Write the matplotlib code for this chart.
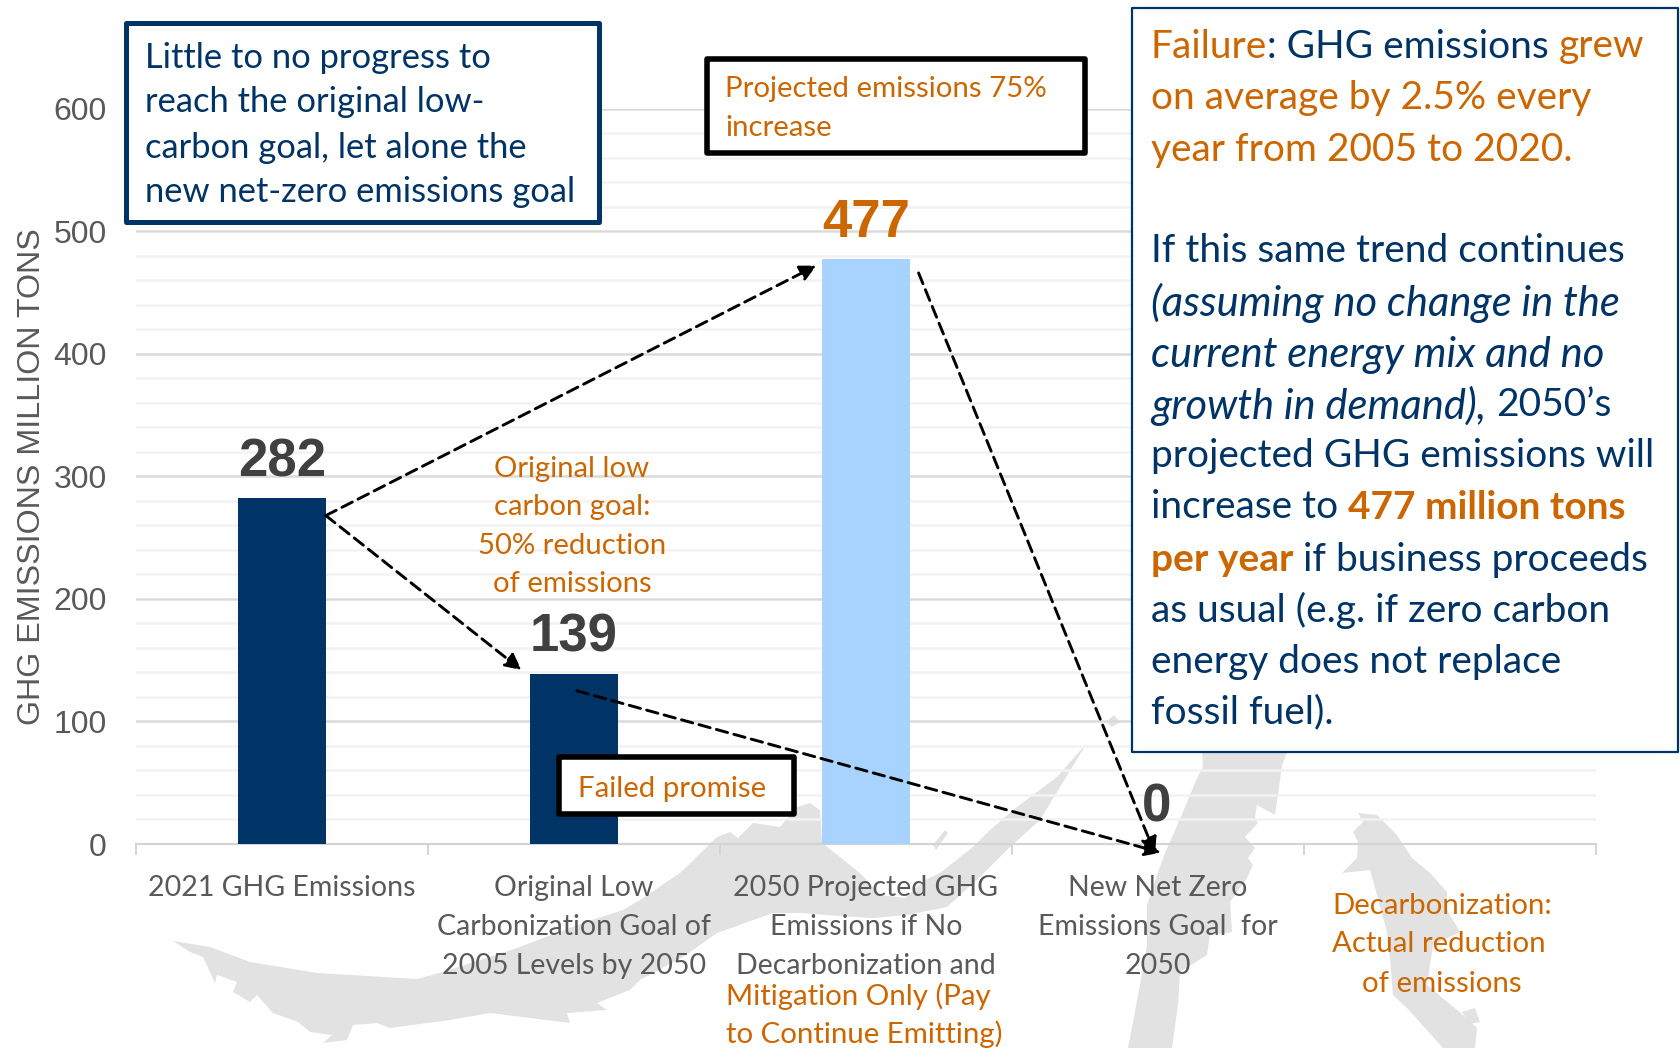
import matplotlib
matplotlib.use("Agg")
import matplotlib.pyplot as plt
from matplotlib.patches import Polygon, Rectangle

W, H = 1681, 1048
NAVY = "#003366"
ORANGE = "#cc6600"
GRAY = "#595959"
SANS = "Lato"
ARIAL = "Liberation Sans"

# ---- data ----
categories = ["2021 GHG Emissions",
              "Original Low\nCarbonization Goal of\n2005 Levels by 2050",
              "2050 Projected GHG\nEmissions if No\nDecarbonization and",
              "New Net Zero\nEmissions Goal  for\n2050",
              ""]
values = [282, 139, 477, 0]
value_labels = ["282", "139", "477", "0"]
value_colors = ["#404040", "#404040", ORANGE, "#404040"]
bar_colors = [NAVY, NAVY, "#a9d3ff", NAVY]
y_ticks = [0, 100, 200, 300, 400, 500, 600]
y_minor = [v for v in range(0, 601, 20) if v % 100]
arrows = [((0.15, 268), (1.83, 472)),
          ((0.15, 268), (0.82, 142)),
          ((1.01, 125), (3.01, -7)),
          ((2.18, 466), (2.99, -8))]

fig = plt.figure(figsize=(W / 100, H / 100), dpi=100, facecolor="white")

# pixel layer for the decorative watermark
bg = fig.add_axes([0, 0, 1, 1], zorder=0)
bg.set_xlim(0, W); bg.set_ylim(H, 0); bg.axis("off")

wm = "#e2e2e2"
shape1 = [(173, 941), (210, 947), (250, 962), (317, 973), (417, 979), (443, 972), (517, 948), (583, 923),
          (623, 910), (640, 900), (680, 873), (717, 837), (730, 832), (738, 838), (753, 823), (780, 827),
          (797, 807), (810, 803), (820, 810), (822, 843), (840, 857), (862, 875), (880, 895), (905, 898),
          (925, 880), (940, 873), (973, 847), (990, 830), (1017, 807), (1057, 777), (1087, 743), (1040, 820),
          (1010, 847), (980, 877), (947, 907), (907, 915), (873, 918), (840, 916), (800, 913), (773, 913),
          (717, 933), (683, 957), (640, 980), (630, 990), (597, 1003), (607, 1010), (567, 1013), (570, 1023),
          (490, 1013), (450, 1020), (390, 1028), (377, 1023), (353, 1025), (347, 1040), (323, 1043), (332, 1035),
          (310, 1032), (298, 1022), (273, 1013), (257, 995), (250, 1002), (233, 992), (237, 982), (217, 975),
          (215, 983), (203, 957), (190, 952)]
shape2 = [(1202, 753), (1287, 753), (1282, 765), (1278, 795), (1275, 815), (1257, 805), (1255, 817), (1258, 823),
          (1245, 837), (1255, 848), (1248, 858), (1253, 865), (1247, 878), (1230, 902), (1232, 932), (1210, 935),
          (1207, 955), (1180, 972), (1178, 1005), (1172, 1048), (1128, 1048), (1140, 985), (1147, 945),
          (1147, 905), (1163, 858), (1183, 812), (1197, 778), (1203, 767)]
shape3 = [(1358, 813), (1377, 815), (1397, 835), (1412, 858), (1430, 873), (1447, 892), (1447, 910), (1460, 932),
          (1433, 945), (1430, 965), (1427, 985), (1463, 1015), (1477, 1028), (1475, 1048), (1443, 1048),
          (1407, 1008), (1393, 995), (1390, 958), (1387, 932), (1377, 895), (1370, 870), (1342, 873), (1357, 858),
          (1358, 842), (1353, 832), (1363, 822)]
blob1 = [(1106, 722), (1114, 715), (1120, 722), (1112, 727)]
blob2 = [(1462, 1012), (1475, 1008), (1480, 1022), (1470, 1024)]
blob3 = [(933, 845), (945, 830), (948, 833), (936, 850)]
for s in (shape1, shape2, shape3, blob1, blob2, blob3):
    bg.add_patch(Polygon(s, closed=True, fc=wm, ec="none"))

# chart axes
L, R, T, B = 136, 1596, 108.7, 844
ax = fig.add_axes([L / W, 1 - B / H, (R - L) / W, (B - T) / H], zorder=1)
ax.patch.set_alpha(0)
x = list(range(len(values)))
ax.bar(x, values, width=0.30, color=bar_colors, zorder=3)
ax.set_xlim(-0.5, 4.5)
ax.set_ylim(0, 600)
for s in ("top", "right", "left"):
    ax.spines[s].set_visible(False)
ax.spines["bottom"].set_color("#d4d4d4")
ax.spines["bottom"].set_linewidth(1.6)
ax.set_yticks(y_ticks)
ax.set_yticks(y_minor, minor=True)
ax.tick_params(axis="y", which="both", length=0)
ax.tick_params(axis="y", which="major", labelsize=23, labelcolor=GRAY, pad=21)
for t in ax.get_yticklabels():
    t.set_fontfamily(ARIAL)
ax.grid(axis="y", which="major", color="#dadada", lw=1.8, zorder=1)
ax.grid(axis="y", which="minor", color="#f2f2f2", lw=1.8, zorder=1)
ax.set_axisbelow(True)
ax.set_xticks([i - 0.5 for i in range(6)])
ax.set_xticklabels([])
ax.set_xticks(x + [4], minor=True)
ax.set_xticklabels(categories, minor=True, fontfamily=SANS, fontsize=20.5, color=GRAY, linespacing=1.62)
ax.tick_params(axis="x", which="major", length=8, color="#d4d4d4", width=1.4)
ax.tick_params(axis="x", which="minor", length=0, pad=22)
ax.set_ylabel("GHG EMISSIONS MILLION TONS", fontfamily=ARIAL, fontsize=23.2, color=GRAY)
ax.yaxis.set_label_coords((47 - L) / (R - L), (B - 477) / (B - T))

for i, (v, lab, c) in enumerate(zip(values, value_labels, value_colors)):
    ax.annotate(lab, (i, v), xytext=(-1 if i == 3 else 0, 8), textcoords="offset points", ha="center", va="bottom",
                fontfamily=ARIAL, fontweight="bold", fontsize=38, color=c, zorder=5)

for a, b in arrows:
    ax.annotate("", xy=b, xytext=a, annotation_clip=False, zorder=6,
                arrowprops=dict(arrowstyle="-|>", linestyle=(0, (4, 2.2)), lw=2.1, color="black",
                                shrinkA=0, shrinkB=0, mutation_scale=24))

# front pixel layer: boxes and text
fg = fig.add_axes([0, 0, 1, 1], zorder=2)
fg.set_xlim(0, W); fg.set_ylim(H, 0); fg.axis("off"); fg.patch.set_alpha(0)


def box(x0, y0, x1, y1, ec, lw):
    fg.add_patch(Rectangle((x0, y0), x1 - x0, y1 - y0, fc="white", ec=ec, lw=lw, joinstyle="round", zorder=2))


box(126, 23, 599, 222, NAVY, 3.6)
box(707, 59, 1085, 153, "black", 4)
box(559, 757, 794, 814, "black", 4)
box(1132, 8, 1678, 752, NAVY, 1.6)

renderer = fig.canvas.get_renderer()


def seg_width(s, **kw):
    t1 = fg.text(0, 0, s + "|", **kw)
    t2 = fg.text(0, 0, "|", **kw)
    w = t1.get_window_extent(renderer).width - t2.get_window_extent(renderer).width
    t1.remove(); t2.remove()
    return w


def line(x0, y, segs, size, ha="left"):
    kws = []
    for s, c, st in segs:
        kws.append(dict(color=c, fontsize=size * (1.075 if st == "i" else 1), fontfamily=SANS, va="center", zorder=4,
                        fontweight="bold" if st == "b" else "normal",
                        fontstyle="italic" if st == "i" else "normal"))
    ws = [seg_width(s[0], **k) for s, k in zip(segs, kws)]
    cx = x0 - (sum(ws) / 2 if ha == "center" else 0)
    for (s, _, _), k, w in zip(segs, kws, ws):
        fg.text(cx, y + 1.5, s, **k)
        cx += w


for y, s in zip((57, 100, 146, 190), ("Little to no progress to", "reach the original low-",
                                      "carbon goal, let alone the", "new net-zero emissions goal")):
    line(145, y, [(s, NAVY, "")], 24.8)
for y, s in zip((88, 126), ("Projected emissions 75%", "increase")):
    line(725, y, [(s, ORANGE, "")], 21.2)
line(578, 787, [("Failed promise", ORANGE, "")], 21.2)
for y, s in zip((467, 506, 545, 583), ("Original low", "carbon goal:", "50% reduction", "of emissions")):
    line(572, y, [(s, ORANGE, "")], 21.1, ha="center")
for y, s in zip((995, 1033), ("Mitigation Only (Pay", "to Continue Emitting)")):
    line(726, y, [(s, ORANGE, "")], 21.2)
for y, xc, s in zip((904, 943, 982), (1442, 1439, 1442), ("Decarbonization:", "Actual reduction", "of emissions")):
    line(xc, y, [(s, ORANGE, "")], 21.2, ha="center")

rows = [
    (45, [("Failure", ORANGE, ""), (": GHG emissions ", NAVY, ""), ("grew", ORANGE, "")]),
    (97, [("on average by 2.5% every", ORANGE, "")]),
    (148, [("year from 2005 to 2020.", ORANGE, "")]),
    (250, [("If this same trend continues", NAVY, "")]),
    (301, [("(assuming no change in the", NAVY, "i")]),
    (353, [("current energy mix and no", NAVY, "i")]),
    (404, [("growth in demand), ", NAVY, "i"), ("2050’s", NAVY, "")]),
    (455, [("projected GHG emissions will", NAVY, "")]),
    (506, [("increase to ", NAVY, ""), ("477 million tons", ORANGE, "b")]),
    (558, [("per year", ORANGE, "b"), (" if business proceeds", NAVY, "")]),
    (609, [("as usual (e.g. if zero carbon", NAVY, "")]),
    (660, [("energy does not replace", NAVY, "")]),
    (711, [("fossil fuel).", NAVY, "")]),
]
for y, segs in rows:
    line(1151, y, segs, 28)

fig.savefig("out.png", dpi=100, facecolor="white")
